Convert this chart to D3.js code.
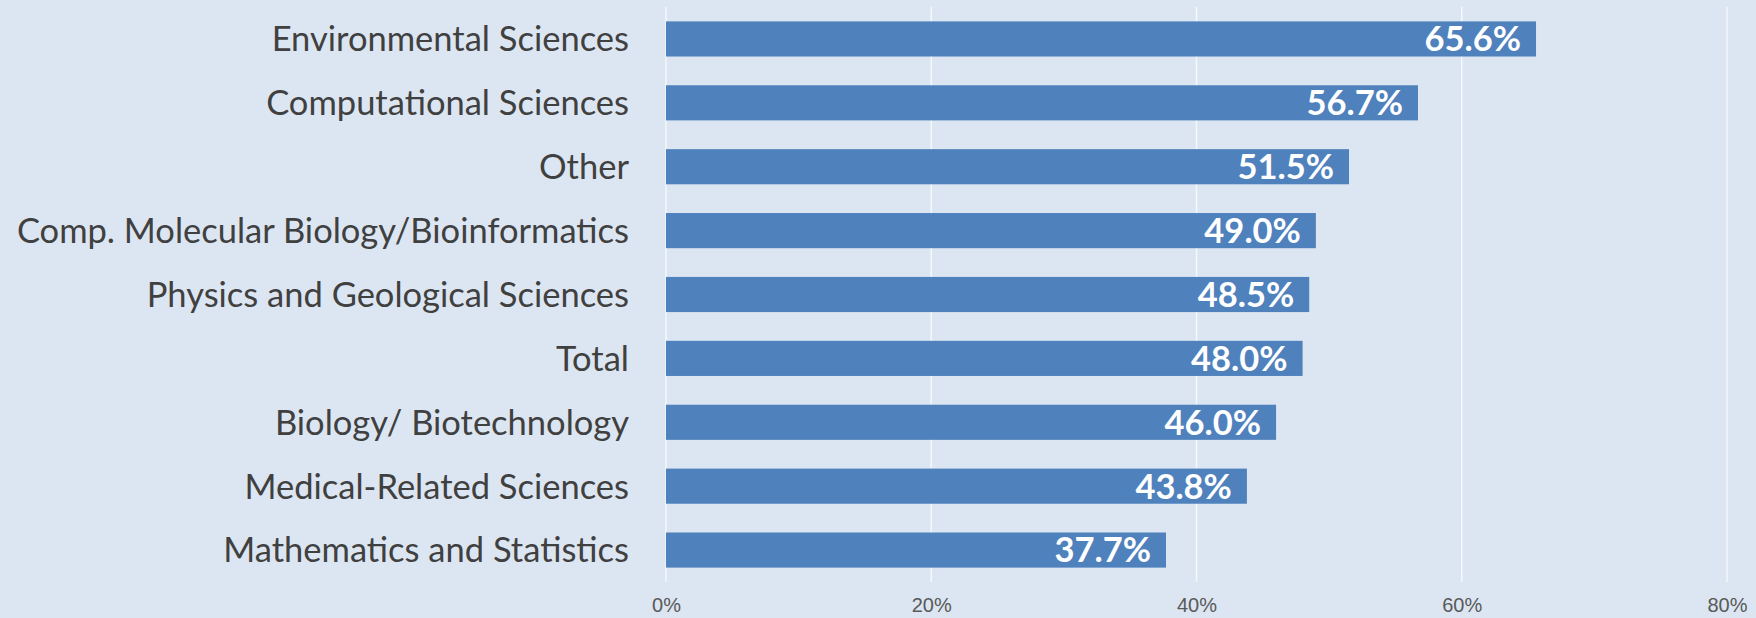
<!DOCTYPE html>
<html>
<head>
<meta charset="utf-8">
<script src="https://cdn.jsdelivr.net/npm/d3@7"></script>
<style>
  html, body { margin: 0; padding: 0; background: #dce6f2; }
  svg { display: block; }
</style>
</head>
<body>
<script>
const categories = [
  "Environmental Sciences",
  "Computational Sciences",
  "Other",
  "Comp. Molecular Biology/Bioinformatics",
  "Physics and Geological Sciences",
  "Total",
  "Biology/ Biotechnology",
  "Medical-Related Sciences",
  "Mathematics and Statistics"
];
const values = [65.6, 56.7, 51.5, 49.0, 48.5, 48.0, 46.0, 43.8, 37.7];
const tickValues = [0, 20, 40, 60, 80];
const tickLabels = ["0%", "20%", "40%", "60%", "80%"];

const W = 1756, H = 618;
const margin = { left: 666, right: 29, top: 7, bottom: 36 };

const svg = d3.select("body").append("svg").attr("width", W).attr("height", H);
svg.append("rect").attr("width", W).attr("height", H).attr("fill", "#dce6f2");

const x = d3.scaleLinear().domain([0, 80]).range([margin.left, W - margin.right]);
const y = d3.scaleBand().domain(categories).range([margin.top, H - margin.bottom])
  .paddingInner(0.45).paddingOuter(0.225);

// gridlines
svg.append("g").selectAll("line").data(tickValues).join("line")
  .attr("x1", d => x(d)).attr("x2", d => x(d))
  .attr("y1", margin.top).attr("y2", H - margin.bottom)
  .attr("stroke", "#f4f7fb").attr("stroke-width", 1.5);

// bars
svg.append("g").selectAll("rect").data(values).join("rect")
  .attr("x", x(0))
  .attr("y", (d, i) => y(categories[i]))
  .attr("width", d => x(d) - x(0))
  .attr("height", y.bandwidth())
  .attr("fill", "#4f81bd");

// value labels
svg.append("g").selectAll("text").data(values).join("text")
  .attr("x", d => x(d) - 15)
  .attr("y", (d, i) => y(categories[i]) + y.bandwidth() / 2)
  .attr("dy", "0.36em")
  .attr("text-anchor", "end")
  .attr("fill", "#ffffff")
  .attr("font-family", "Lato, 'Open Sans', sans-serif")
  .attr("font-weight", "bold")
  .attr("font-size", 34.5)
  .text(d => d.toFixed(1) + "%");

// category labels
const yAxis = d3.axisLeft(y).tickSize(0).tickPadding(37);
const gy = svg.append("g").attr("transform", `translate(${margin.left},0)`).call(yAxis);
gy.select(".domain").remove();
gy.selectAll("text")
  .attr("dy", "0.36em")
  .attr("fill", "#404040")
  .attr("font-family", "Lato, 'Open Sans', sans-serif")
  .attr("font-size", 34.5);

// x tick labels
const xAxis = d3.axisBottom(x).tickValues(tickValues).tickSize(0).tickPadding(0)
  .tickFormat((d, i) => tickLabels[i]);
const gx = svg.append("g").attr("transform", `translate(0,${H - 13})`).call(xAxis);
gx.select(".domain").remove();
gx.selectAll("text")
  .attr("dy", "0.36em")
  .attr("fill", "#595959")
  .attr("font-family", "'Liberation Sans Narrow', 'Liberation Sans', sans-serif")
  .attr("font-size", 20);
</script>
</body>
</html>
